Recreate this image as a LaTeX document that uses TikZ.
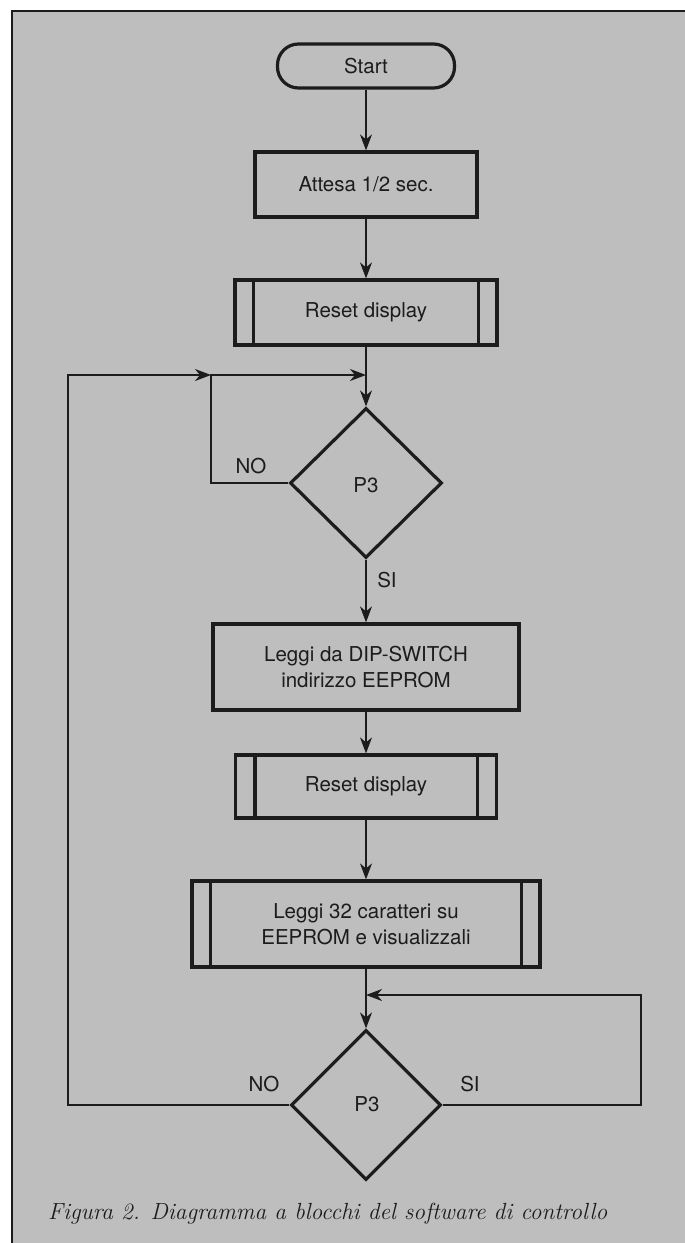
\documentclass[tikz,border=0pt]{standalone}
\usepackage{fontspec}
\setsansfont{TeX Gyre Heros}
\usetikzlibrary{arrows.meta,shapes.geometric}
\definecolor{bg}{RGB}{190,190,190}
\definecolor{ink}{RGB}{28,28,28}
\begin{document}
\begin{tikzpicture}[x=1pt,y=-1pt,
  every node/.style={font=\fontsize{20.5}{26}\selectfont\sffamily, text=ink},
  blk/.style={draw=ink, line width=3.2pt, inner sep=0pt, align=center},
  bar/.style={draw=ink, line width=3.2pt},
  conn/.style={draw=ink, line width=1.4pt},
  arr/.style={-{Stealth[length=16pt,width=12pt,inset=5pt]}},
  lbl/.style={inner sep=0pt}]
\useasboundingbox (0,0) rectangle (685,1243);
\fill[white] (0,0) rectangle (685,1243);
\fill[bg] (12,11) rectangle (685,1243);
\draw[ink, line width=2pt] (12,1243) -- (12,11) -- (685,11);

% nodes
\node[blk, rounded corners=21pt, minimum width=177pt, minimum height=44pt] (start) at (366,66) {Start};
\node[blk, minimum width=222pt, minimum height=65pt] (att) at (366,184.5) {Attesa 1/2 sec.};
\node[blk, minimum width=262pt, minimum height=65pt] (r1) at (366,312.5) {Reset display};
\node[blk, diamond, minimum width=152pt, minimum height=150pt] (d1) at (366,483) {};
\node[blk, minimum width=306pt, minimum height=86pt] (b3) at (366,667) {Leggi da DIP-SWITCH\\indirizzo EEPROM};
\node[blk, minimum width=261pt, minimum height=63pt] (r2) at (366,786.5) {Reset display};
\node[blk, minimum width=348pt, minimum height=86pt] (b5) at (366,924) {Leggi 32 caratteri su\\EEPROM e visualizzali};
\node[blk, diamond, minimum width=150pt, minimum height=150pt] (d2) at (366,1105) {};

% inner bars of subroutine boxes
\draw[bar] ([xshift=20pt]r1.north west) -- ([xshift=20pt]r1.south west);
\draw[bar] ([xshift=-20pt]r1.north east) -- ([xshift=-20pt]r1.south east);
\draw[bar] ([xshift=21pt]r2.north west) -- ([xshift=21pt]r2.south west);
\draw[bar] ([xshift=-21pt]r2.north east) -- ([xshift=-21pt]r2.south east);
\draw[bar] ([xshift=20pt]b5.north west) -- ([xshift=20pt]b5.south west);
\draw[bar] ([xshift=-20pt]b5.north east) -- ([xshift=-20pt]b5.south east);

% labels
\node[lbl] (p3a) at (366,485) {P3};
\node[lbl] (p3b) at (367,1104) {P3};
\node[lbl] (noa) at (251,466) {NO};
\node[lbl] (sia) at (387,580) {SI};
\node[lbl] (nob) at (264,1084) {NO};
\node[lbl] (sib) at (470,1084) {SI};

% coordinates
\coordinate (m1) at (366,375);
\coordinate (j1) at (211,375);
\coordinate (lb) at (68,1105);
\coordinate (rb) at (641,1105);
\coordinate (m2) at (366,995);

% connectors
\draw[conn, arr] (start) -- (att);
\draw[conn, arr] (att) -- (r1);
\draw[conn, arr] (r1) -- (d1);
\draw[conn, arr] (d1) -- (b3);
\draw[conn, arr] (b3) -- (r2);
\draw[conn, arr] (r2) -- (b5);
\draw[conn, arr] (b5) -- (d2);
\draw[conn, arr] (d1.west) -| (j1) -- (m1);
\draw[conn, arr] (d2.west) -- (lb) |- (j1);
\draw[conn, arr] (d2.east) -- (rb) |- (m2);

% caption
\node[anchor=base west, inner sep=0pt, font=\fontsize{20}{24}\selectfont\rmfamily\itshape] (cap) at (48,1219) {\resizebox{559pt}{!}{Figura 2. Diagramma a blocchi del software di controllo}};
\end{tikzpicture}
\end{document}
